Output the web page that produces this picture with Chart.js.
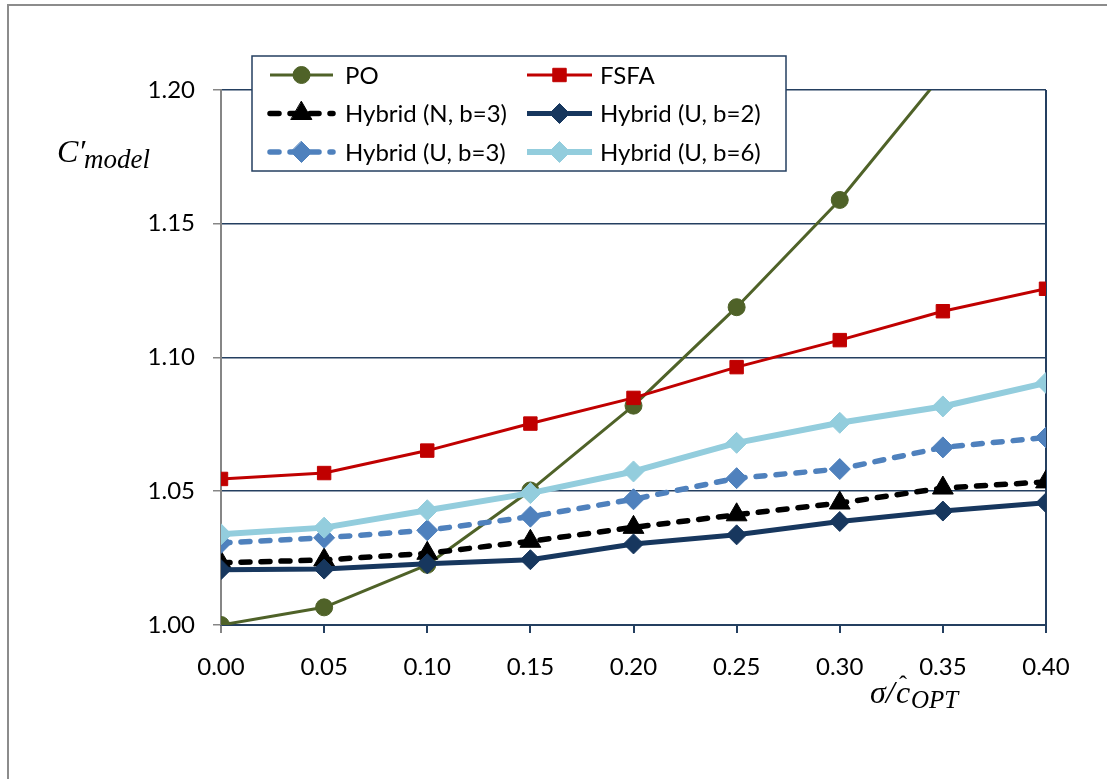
<!DOCTYPE html>
<html>
<head>
<meta charset="utf-8">
<script src="https://cdn.jsdelivr.net/npm/chart.js@4/dist/chart.umd.min.js"></script>
<style>
  html, body { margin: 0; padding: 0; background: #fff; }
  #wrap { width: 1107px; height: 779px; position: relative; }
</style>
</head>
<body>
<div id="wrap"><canvas id="basechart" width="1107" height="779"></canvas></div>
<script>
// x values (sigma / c_opt)
const xValues = [0.00, 0.05, 0.10, 0.15, 0.20, 0.25, 0.30, 0.35, 0.40];

// series values
const poValues = [1.000, 1.0066, 1.0225, 1.0503, 1.0820, 1.1188, 1.1589, 1.2060, 1.2550];
const fsfaValues = [1.0546, 1.0568, 1.0652, 1.0753, 1.0849, 1.0964, 1.1065, 1.1173, 1.1257];
const hybridN3 = [1.0233, 1.0243, 1.0268, 1.0313, 1.0365, 1.0412, 1.0456, 1.0512, 1.0535];
const hybridU2 = [1.0207, 1.0209, 1.0229, 1.0244, 1.0303, 1.0337, 1.0387, 1.0426, 1.0457];
const hybridU3 = [1.0307, 1.0326, 1.0354, 1.0405, 1.0470, 1.0549, 1.0583, 1.0664, 1.0701];
const hybridU6 = [1.0339, 1.0364, 1.0429, 1.0493, 1.0574, 1.0681, 1.0756, 1.0817, 1.0905];

const seriesLabels = ['PO', 'FSFA', 'Hybrid (N, b=3)', 'Hybrid (U, b=2)', 'Hybrid (U, b=3)', 'Hybrid (U, b=6)'];

const colors = {
    po: '#4f6228',
    fsfa: '#c00000',
    n3: '#000000',
    u2: '#17375e',
    u3: '#4f81bd',
    u6: '#93cddd',
    grid: '#243f60',
    axis: '#868686'
};

function toPoints(values) {
    return values.map((v, i) => ({ x: xValues[i], y: v }));
}

function makeSet(label, values, color, opts) {
    return Object.assign({
        label: label,
        data: toPoints(values),
        borderColor: color,
        backgroundColor: color,
        pointBackgroundColor: color,
        pointBorderColor: color,
        pointBorderWidth: 1,
        fill: false,
        tension: 0,
        borderCapStyle: 'butt',
        borderJoinStyle: 'round'
    }, opts);
}

const datasets = [
    makeSet(seriesLabels[0], poValues, colors.po, { borderWidth: 3, pointStyle: 'circle', pointRadius: 8.5, order: 6 }),
    makeSet(seriesLabels[1], fsfaValues, colors.fsfa, { borderWidth: 3, pointStyle: 'rect', pointRadius: 9.5, order: 5 }),
    makeSet(seriesLabels[2], hybridN3, colors.n3, { borderWidth: 5.5, borderDash: [9, 11], borderCapStyle: 'round', pointStyle: 'triangle', pointRadius: 12, order: 4 }),
    makeSet(seriesLabels[3], hybridU2, colors.u2, { borderWidth: 5, pointStyle: 'rectRot', pointRadius: 10, order: 3 }),
    makeSet(seriesLabels[4], hybridU3, colors.u3, { borderWidth: 5.5, borderDash: [9, 11], borderCapStyle: 'round', pointStyle: 'rectRot', pointRadius: 10.5, order: 2 }),
    makeSet(seriesLabels[5], hybridU6, colors.u6, { borderWidth: 6, pointStyle: 'rectRot', pointRadius: 10.5, order: 1 })
];

// simple marker drawing for the legend
function drawMarker(ctx, style, r, x, y) {
    ctx.beginPath();
    if (style === 'circle') {
        ctx.arc(x, y, r, 0, Math.PI * 2);
    } else if (style === 'rect') {
        const s = r * Math.SQRT1_2;
        ctx.rect(x - s, y - s, 2 * s, 2 * s);
    } else if (style === 'triangle') {
        ctx.moveTo(x, y - r);
        ctx.lineTo(x + r * 0.866, y + r * 0.5);
        ctx.lineTo(x - r * 0.866, y + r * 0.5);
        ctx.closePath();
    } else {
        ctx.moveTo(x, y - r);
        ctx.lineTo(x + r, y);
        ctx.lineTo(x, y + r);
        ctx.lineTo(x - r, y);
        ctx.closePath();
    }
    ctx.fill();
    ctx.stroke();
}

const decorPlugin = {
    id: 'decor',
    beforeDraw(chart) {
        const ctx = chart.ctx;
        ctx.save();
        ctx.fillStyle = '#fff';
        ctx.fillRect(0, 0, chart.width, chart.height);
        // outer frame
        ctx.strokeStyle = '#8c8c8c';
        ctx.lineWidth = 2;
        ctx.beginPath();
        ctx.moveTo(8, chart.height + 5);
        ctx.lineTo(8, 5);
        ctx.lineTo(chart.width + 5, 5);
        ctx.stroke();
        ctx.restore();
    },
    afterDraw(chart) {
        const ctx = chart.ctx;
        ctx.save();

        // legend box
        const bx = 252, by = 56, bw = 534, bh = 115;
        ctx.fillStyle = '#fff';
        ctx.fillRect(bx, by, bw, bh);
        ctx.strokeStyle = colors.grid;
        ctx.lineWidth = 1.5;
        ctx.strokeRect(bx, by, bw, bh);

        const rows = [75, 113.5, 152];
        const cols = [{ x1: 270, x2: 333, tx: 345 }, { x1: 527, x2: 592, tx: 600 }];
        chart.data.datasets.forEach((ds, i) => {
            const row = rows[Math.floor(i / 2)];
            const col = cols[i % 2];
            ctx.save();
            ctx.strokeStyle = ds.borderColor;
            ctx.lineWidth = ds.borderWidth;
            ctx.lineCap = ds.borderCapStyle;
            ctx.setLineDash(ds.borderDash || []);
            ctx.beginPath();
            ctx.moveTo(col.x1, row);
            ctx.lineTo(col.x2, row);
            ctx.stroke();
            ctx.setLineDash([]);
            ctx.fillStyle = ds.pointBackgroundColor;
            ctx.strokeStyle = ds.pointBorderColor;
            ctx.lineWidth = 1;
            drawMarker(ctx, ds.pointStyle, ds.pointRadius, (col.x1 + col.x2) / 2, row);
            ctx.restore();
            ctx.fillStyle = '#000';
            ctx.font = '24px Lato';
            ctx.textBaseline = 'middle';
            ctx.textAlign = 'left';
            ctx.fillText(ds.label, col.tx, row + 1);
        });

        // y axis title: C'_model
        ctx.fillStyle = '#000';
        ctx.textBaseline = 'alphabetic';
        ctx.font = 'italic 32px "Liberation Serif"';
        ctx.fillText('C\u2032', 57, 162);
        ctx.font = 'italic 27px "Liberation Serif"';
        ctx.fillText('model', 84, 168);

        // x axis title: sigma / c-hat_OPT
        ctx.font = 'italic 32px "Liberation Serif"';
        ctx.fillText('\u03c3/', 870, 703);
        ctx.fillText('c', 896, 703);
        ctx.font = '24px "Liberation Serif"';
        ctx.fillText('\u02c6', 899, 692);
        ctx.font = 'italic 25px "Liberation Serif"';
        ctx.fillText('OPT', 911, 708);

        ctx.restore();
    }
};

const serverChart = new Chart(document.getElementById('basechart').getContext('2d'), {
    type: 'line',
    data: { datasets: datasets },
    options: {
        responsive: false,
        devicePixelRatio: 1,
        animation: false,
        layout: { padding: { left: 0, top: 90, right: 61, bottom: 94 } },
        plugins: {
            legend: { display: false },
            title: { display: false },
            tooltip: { enabled: false }
        },
        scales: {
            x: {
                type: 'linear',
                min: 0,
                max: 0.4,
                afterFit: (scale) => { scale.height = 60; },
                afterBuildTicks: (scale) => { scale.ticks = xValues.map(v => ({ value: v })); },
                ticks: {
                    color: '#000',
                    font: { family: 'Lato', size: 24 },
                    padding: 20,
                    maxRotation: 0,
                    autoSkip: false,
                    callback: (v) => Number(v).toFixed(2)
                },
                grid: {
                    color: (c) => (c.tick && Math.abs(c.tick.value - 0.4) < 1e-9) ? colors.grid : 'rgba(0,0,0,0)',
                    lineWidth: 2,
                    tickColor: (c) => c.index === 0 ? colors.axis : colors.grid,
                    tickLength: 8,
                    drawTicks: true
                },
                border: { display: true, color: colors.grid, width: 2 }
            },
            y: {
                min: 1.0,
                max: 1.2,
                afterFit: (scale) => { scale.width = 221; },
                ticks: {
                    stepSize: 0.05,
                    color: '#000',
                    font: { family: 'Lato', size: 24 },
                    padding: 18,
                    callback: (v) => Number(v).toFixed(2)
                },
                grid: {
                    color: colors.grid,
                    lineWidth: 1.5,
                    tickColor: colors.axis,
                    tickLength: 8
                },
                border: { display: true, color: colors.axis, width: 2 }
            }
        }
    },
    plugins: [decorPlugin]
});
</script>
</body>
</html>
